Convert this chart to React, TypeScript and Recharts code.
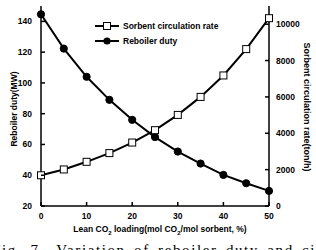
import React from 'react'
import { ComposedChart, Line, XAxis, YAxis } from 'recharts'

const loading = [0, 5, 10, 15, 20, 25, 30, 35, 40, 45, 50]
const reboilerDuty = [144.6, 122.3, 104, 89, 76, 64.8, 55.4, 47.6, 40.2, 34.8, 29.8]
const sorbentRate = [1690, 2010, 2430, 2910, 3490, 4170, 5010, 6000, 7180, 8630, 10330]

const xTicks = [0, 10, 20, 30, 40, 50]
const dutyTicks = [20, 40, 60, 80, 100, 120, 140]
const rateTicks = [0, 2000, 4000, 6000, 8000, 10000]

const rows = loading.map((x, i) => ({ x, duty: reboilerDuty[i], rate: sorbentRate[i] }))

const FONT = "'Liberation Sans', Arial, sans-serif"
const TICK = 4

const BottomTick = ({ x, y, payload }: any) => (
  <g>
    <line x1={x} y1={y} x2={x} y2={y - TICK} stroke="#000" strokeWidth={1.5} />
    <text x={x} y={y + 12.5} textAnchor="middle" fontFamily={FONT} fontWeight="bold" fontSize={8.5} fill="#000">{payload.value}</text>
  </g>
)

const TopTick = ({ x, y }: any) => (
  <line x1={x} y1={y} x2={x} y2={y + TICK} stroke="#000" strokeWidth={1.5} />
)

const LeftTick = ({ x, y, payload }: any) => (
  <g>
    <line x1={x} y1={y} x2={x + TICK} y2={y} stroke="#000" strokeWidth={1.5} />
    <text x={x - 9} y={y + 3} textAnchor="end" fontFamily={FONT} fontWeight="bold" fontSize={8.5} fill="#000">{payload.value}</text>
  </g>
)

const RightTick = ({ x, y, payload }: any) => (
  <g>
    <line x1={x} y1={y} x2={x - TICK} y2={y} stroke="#000" strokeWidth={1.5} />
    <text x={x + 7} y={y + 3} textAnchor="start" fontFamily={FONT} fontWeight="bold" fontSize={8.5} fill="#000">{payload.value}</text>
  </g>
)

const SquareDot = ({ cx, cy }: any) => (
  <rect x={cx - 3.5} y={cy - 3.5} width={7} height={7} fill="#fff" stroke="#000" strokeWidth={1} />
)

const CircleDot = ({ cx, cy }: any) => (
  <circle cx={cx} cy={cy} r={3.6} fill="#000" stroke="#000" />
)

const legendItems = [
  { name: 'Sorbent circulation rate', square: true },
  { name: 'Reboiler duty', square: false },
]

// legend and axis titles sit in an overlay so they take no room from the plot
const Overlay = () => (
  <svg width={316} height={250} style={{ position: 'absolute', left: 0, top: 0, pointerEvents: 'none' }}>
    {legendItems.map((it, i) => {
      const cy = 26 + i * 15
      return (
        <g key={it.name}>
          <line x1={95} y1={cy} x2={119} y2={cy} stroke="#000" strokeWidth={2} />
          {it.square
            ? <rect x={103.5} y={cy - 3.5} width={7} height={7} fill="#fff" stroke="#000" strokeWidth={1} />
            : <circle cx={107} cy={cy} r={3.6} fill="#000" />}
          <text x={123} y={cy + 3} fontFamily={FONT} fontWeight="bold" fontSize={8.5} fill="#000">{it.name}</text>
        </g>
      )
    })}
    <text x={160} y={231.5} textAnchor="middle" fontFamily={FONT} fontWeight="bold" fontSize={8.5} fill="#000">
      Lean CO<tspan dy={3} fontSize={6}>2</tspan><tspan dy={-3}> loading(mol CO</tspan><tspan dy={3} fontSize={6}>2</tspan><tspan dy={-3}>/mol sorbent, %)</tspan>
    </text>
    <text transform="translate(16.5,109) rotate(-90)" textAnchor="middle" fontFamily={FONT} fontWeight="bold" fontSize={8.5} fill="#000">
      Reboiler duty(MW)
    </text>
    <text transform="translate(304,107) rotate(90)" textAnchor="middle" fontFamily={FONT} fontWeight="bold" fontSize={9} fill="#000">
      Sorbent circulation rate(ton/h)
    </text>
  </svg>
)

export default function App() {
  return (
    <div style={{ position: 'absolute', left: 0, top: 0, width: 316, height: 250, overflow: 'hidden', background: '#fff' }}>
      <ComposedChart width={316} height={250} data={rows} margin={{ top: 6, right: 0, bottom: 0, left: 0 }}>
        <XAxis
          xAxisId="b" dataKey="x" type="number" domain={[0, 50]} ticks={xTicks} interval={0}
          tickSize={0} tickMargin={0} tickLine={false} tick={<BottomTick />}
          axisLine={{ stroke: '#000', strokeWidth: 1.5 }} height={44}
        />
        <XAxis
          xAxisId="t" orientation="top" dataKey="x" type="number" domain={[0, 50]} ticks={xTicks} interval={0}
          tickSize={0} tickMargin={0} tickLine={false} tick={<TopTick />}
          axisLine={{ stroke: '#000', strokeWidth: 1.5 }} height={0}
        />
        <YAxis
          yAxisId="left" type="number" domain={[20, 150]} ticks={dutyTicks} interval={0} width={41}
          tickSize={0} tickMargin={0} tickLine={false} tick={<LeftTick />}
          axisLine={{ stroke: '#000', strokeWidth: 1.5 }}
        />
        <YAxis
          yAxisId="right" orientation="right" type="number" domain={[0, 11000]} ticks={rateTicks} interval={0} width={47}
          tickSize={0} tickMargin={0} tickLine={false} tick={<RightTick />}
          axisLine={{ stroke: '#000', strokeWidth: 1.5 }}
        />
        <Line
          xAxisId="b" yAxisId="left" dataKey="duty" name="Reboiler duty" stroke="#000" strokeWidth={2}
          dot={(p: any) => <CircleDot key={`c${p.index}`} {...p} />} isAnimationActive={false}
        />
        <Line
          xAxisId="b" yAxisId="right" dataKey="rate" name="Sorbent circulation rate" stroke="#000" strokeWidth={2}
          dot={(p: any) => <SquareDot key={`s${p.index}`} {...p} />} isAnimationActive={false}
        />
      </ComposedChart>
      <Overlay />
      <div style={{
        position: 'absolute', left: -8, top: 242, whiteSpace: 'nowrap',
        fontFamily: "'Liberation Serif', 'DejaVu Serif', serif", fontSize: 15, letterSpacing: 1.6, wordSpacing: 3, color: '#000',
      }}>
        Fig. 7&nbsp;&nbsp;Variation of reboiler duty and circulation rate
      </div>
    </div>
  )
}
